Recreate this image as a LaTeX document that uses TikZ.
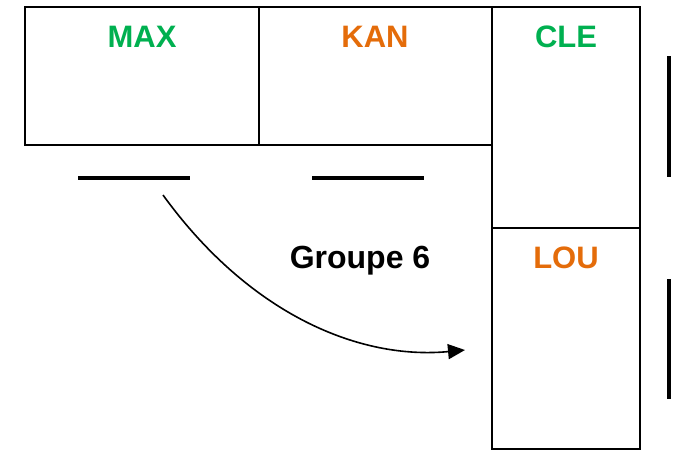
\documentclass[tikz,border=0pt]{standalone}
\usepackage{fontspec}
\setmainfont{Liberation Sans}
\usetikzlibrary{arrows.meta, positioning, calc}
\definecolor{vert}{RGB}{0,176,80}
\definecolor{orange}{RGB}{228,108,10}
\tikzset{
    table/.style={draw, line width=1.5pt, inner sep=0pt, outer sep=0pt},
    nom/.style={font=\bfseries\fontsize{31}{31}\selectfont, anchor=base},
    bare/.style={line width=4.5pt}
}
\begin{document}
\begin{tikzpicture}[x=1pt, y=-1pt]
    \useasboundingbox (0,0) rectangle (686,456);
    % tables
    \node[table, minimum width=234pt, minimum height=138pt, anchor=north west] (max) at (25,7) {};
    \node[table, minimum width=233pt, minimum height=138pt, anchor=north west] (kan) at (max.north east) {};
    \node[table, minimum width=148pt, minimum height=221pt, anchor=north west] (cle) at (kan.north east) {};
    \node[table, minimum width=148pt, minimum height=221pt, anchor=north west] (lou) at (cle.south west) {};
    % noms
    \node[nom, text=vert] at (142,47) {MAX};
    \node[nom, text=orange] at (375,47) {KAN};
    \node[nom, text=vert] at (566,47) {CLE};
    \node[nom, text=orange] at (566,268) {LOU};
    \node[nom, font=\bfseries\fontsize{32}{32}\selectfont] (grp) at (360,268) {Groupe 6};
    % bancs
    \coordinate (b1) at (78,178);
    \coordinate (b2) at (190,178);
    \coordinate (b3) at (312,178);
    \coordinate (b4) at (424,178);
    \coordinate (b5) at (669,56);
    \coordinate (b6) at (669,177);
    \coordinate (b7) at (669,279);
    \coordinate (b8) at (669,399);
    \draw[bare] (b1) -- (b2);
    \draw[bare] (b3) -- (b4);
    \draw[bare] (b5) -- (b6);
    \draw[bare] (b7) -- (b8);
    % deplacement
    \coordinate (d) at (163,195);
    \coordinate (f) at (465,350);
    \draw[line width=1.6pt, -{Triangle[length=17pt, width=15pt]}] (d) .. controls (250,315) and (360,360) .. (f);
\end{tikzpicture}
\end{document}
